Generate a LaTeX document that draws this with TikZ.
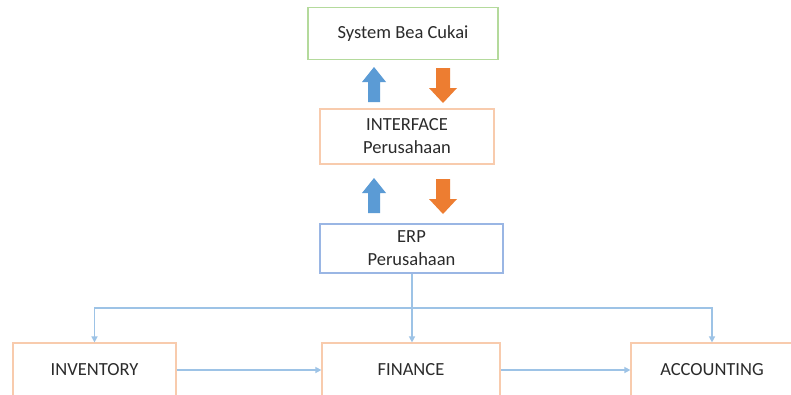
\documentclass[tikz,border=0pt]{standalone}
\usepackage{fontspec}
\setmainfont{Carlito}
\usetikzlibrary{arrows.meta}
\definecolor{boxgreen}{HTML}{B4DA9C}
\definecolor{boxorange}{HTML}{F8CBAD}
\definecolor{boxblue}{HTML}{9AB6E4}
\definecolor{arrblue}{HTML}{5B9BD5}
\definecolor{arrorange}{HTML}{ED7D31}
\definecolor{linkblue}{HTML}{9DC3E6}
\definecolor{txt}{HTML}{2B2B2B}
\tikzset{
  box/.style={draw, line width=1.2pt, text=txt, align=center, inner sep=0pt,
    font=\fontsize{18.5}{23}\selectfont},
  link/.style={draw=linkblue, line width=1.4pt, -{Triangle[length=6pt,width=6pt]}},
  uparrow/.style={fill=arrblue},
  downarrow/.style={fill=arrorange}
}
\begin{document}
\begin{tikzpicture}[x=1pt,y=-1pt]
\useasboundingbox (0,0) rectangle (791,394);
\clip (0,0) rectangle (791,394);
\fill[white] (0,0) rectangle (791,394);
% boxes
\node[box, draw=boxgreen, minimum width=190pt, minimum height=52pt] (bea) at (403,33.5) {System Bea Cukai};
\node[box, draw=boxorange, minimum width=174pt, minimum height=55pt] (intf) at (407,136.5) {INTERFACE\\Perusahaan};
\node[box, draw=boxblue, minimum width=183pt, minimum height=49pt] (erp) at (411.5,248.5) {ERP\\Perusahaan};
\node[box, draw=boxorange, minimum width=163pt, minimum height=54pt] (inv) at (94.5,370) {INVENTORY};
\node[box, draw=boxorange, minimum width=178pt, minimum height=54pt] (fin) at (411,370) {FINANCE};
\node[box, draw=boxorange, minimum width=162pt, minimum height=54pt] (acc) at (712,370) {ACCOUNTING};
% block arrows
\coordinate (u1) at (374,67);
\coordinate (d1) at (443,103);
\coordinate (u2) at (374,178);
\coordinate (d2) at (443,214);
\foreach \p in {u1,u2}
  \fill[uparrow] (\p) -- ++(12,15) -- ++(-6,0) -- ++(0,20) -- ++(-12,0) -- ++(0,-20) -- ++(-6,0) -- cycle;
\foreach \p in {d1,d2}
  \fill[downarrow] (\p) -- ++(14,-15) -- ++(-7,0) -- ++(0,-20) -- ++(-14,0) -- ++(0,20) -- ++(-7,0) -- cycle;
% connectors
\coordinate (split) at (412,308);
\draw[draw=linkblue, line width=1.4pt] (erp.south -| split) -- (split);
\draw[link] (split) -| (inv.north);
\draw[link] (split) -- (fin.north -| split);
\draw[link] (split) -| (acc.north);
\draw[link] (inv.east) -- (fin.west);
\draw[link] (fin.east) -- (acc.west);
\end{tikzpicture}
\end{document}
